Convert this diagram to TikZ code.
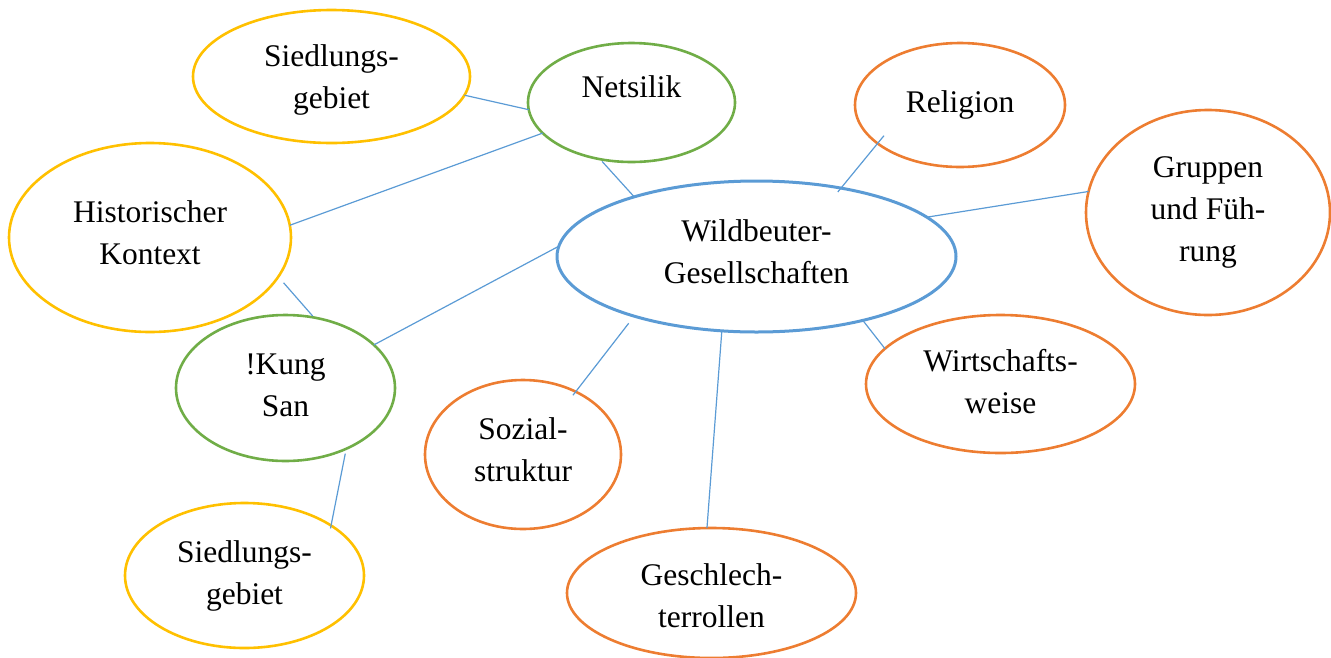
\documentclass[tikz,border=0pt]{standalone}
\usepackage{fontspec}
\setmainfont{Liberation Serif}
\usetikzlibrary{shapes.geometric}
\definecolor{cyel}{HTML}{FFC000}
\definecolor{cgrn}{HTML}{70AD47}
\definecolor{corg}{HTML}{ED7D31}
\definecolor{cblu}{HTML}{5B9BD5}
\begin{document}
\begin{tikzpicture}[x=1pt,y=-1pt,
  bub/.style={ellipse, draw, line width=2.6pt, inner sep=0pt, outer sep=0pt},
  yelbub/.style={bub, draw=cyel},
  grnbub/.style={bub, draw=cgrn},
  orgbub/.style={bub, draw=corg},
  blubub/.style={bub, draw=cblu, line width=3pt},
  txt/.style={align=center, inner sep=0pt, font=\fontsize{31.5}{42}\selectfont},
  link/.style={draw=cblu, line width=1.2pt}
]
\useasboundingbox (0,0) rectangle (1331,657);

% bubbles
\node[yelbub, minimum width=277pt, minimum height=133pt] (sg1) at (331.5,76.5) {};
\node[grnbub, minimum width=207pt, minimum height=119pt] (net) at (631.5,102.5) {};
\node[orgbub, minimum width=210pt, minimum height=124pt] (rel) at (960,105) {};
\node[orgbub, minimum width=244pt, minimum height=205pt] (grp) at (1208,212.5) {};
\node[blubub, minimum width=399pt, minimum height=151pt] (wild) at (756.5,256.5) {};
\node[yelbub, minimum width=282pt, minimum height=189pt] (hist) at (150,237.5) {};
\node[grnbub, minimum width=219pt, minimum height=146pt] (kung) at (285.5,388) {};
\node[orgbub, minimum width=196pt, minimum height=149pt] (soz) at (523,454.5) {};
\node[orgbub, minimum width=269pt, minimum height=138pt] (wirt) at (1000.5,384) {};
\node[yelbub, minimum width=239pt, minimum height=145pt] (sg2) at (244.5,575.5) {};
\node[orgbub, minimum width=289pt, minimum height=130pt] (ges) at (711.5,593) {};

% texts
\node[txt] (sg1t) at (331.5,79.1) {\strut Siedlungs-\\\strut gebiet};
\node[txt] (nett) at (631.5,88.6) {\strut Netsilik};
\node[txt] (relt) at (960,103.6) {\strut Religion};
\node[txt] (grpt) at (1208,211.1) {\strut Gruppen\\\strut und Füh-\\\strut rung};
\node[txt] (wildt) at (756.5,253.6) {\strut Wildbeuter-\\\strut Gesellschaften};
\node[txt] (histt) at (150,235.1) {\strut Historischer\\\strut Kontext};
\node[txt] (kungt) at (285.5,387.1) {\strut !Kung\\\strut San};
\node[txt] (sozt) at (523,452.1) {\strut Sozial-\\\strut struktur};
\node[txt] (wirtt) at (1000.5,384.1) {\strut Wirtschafts-\\\strut weise};
\node[txt] (sg2t) at (244.5,574.6) {\strut Siedlungs-\\\strut gebiet};
\node[txt] (gest) at (711.5,598.1) {\strut Geschlech-\\\strut terrollen};

% connectors
\draw[link] (sg1.-8.8) -- (net.-176.4);
\draw[link] (net.-161.4) -- (hist.5.9);
\draw[link, shorten <=3pt] (net.-119.4) -- (wild.154.1);
\draw[link, shorten <=-10pt, shorten >=-5pt] (rel.-155) -- (wild.39.8);
\draw[link] (grp.170.4) -- (wild.13.9);
\draw[link] (wild.177.3) -- (kung.26.2);
\draw[link, shorten <=8pt, shorten >=2pt] (hist.-17.9) -- (kung.68.7);
\draw[link] (wild.-31.8) -- (wirt.163.7);
\draw[link, shorten <=9pt, shorten >=-4.5pt] (wild.-154.7) -- (soz.50.5);
\draw[link] (wild.-115.8) -- (ges.94.9);
\draw[link, shorten <=5pt, shorten >=-3pt] (kung.-45.2) -- (sg2.30.1);
\end{tikzpicture}
\end{document}
